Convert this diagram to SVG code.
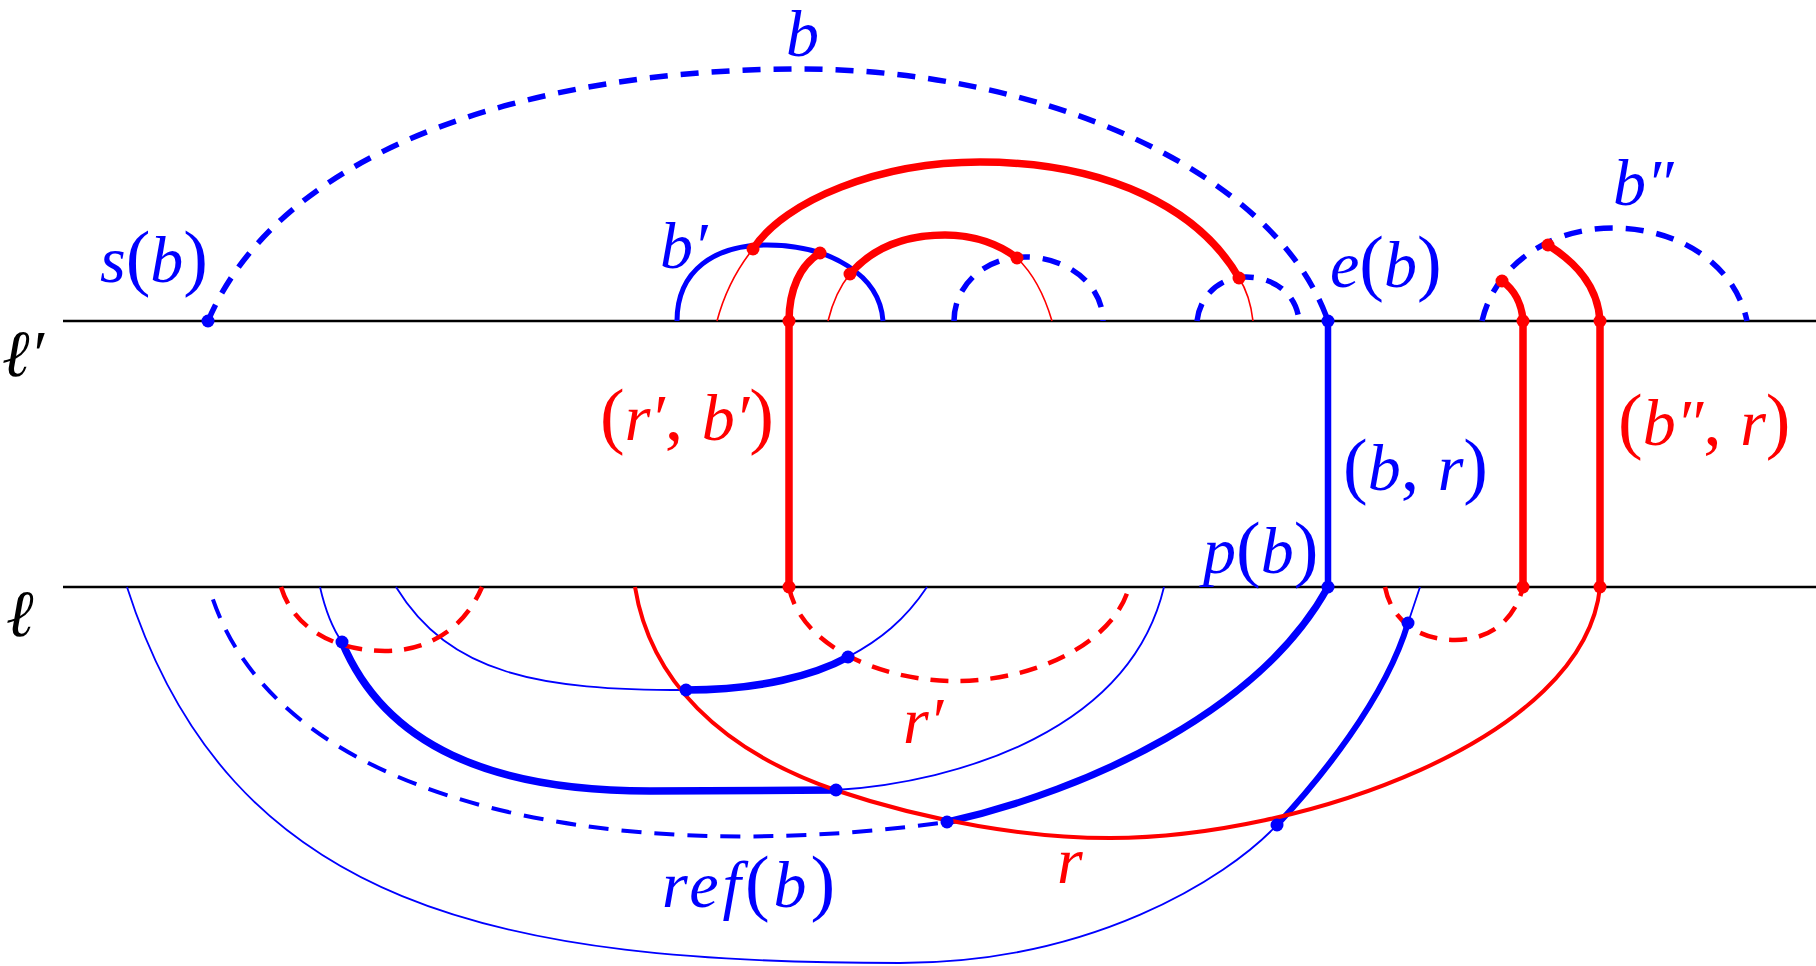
<svg xmlns="http://www.w3.org/2000/svg" width="1816" height="966" viewBox="0 0 1816 966">
<style>
.ax{stroke:#000;stroke-width:2.7;fill:none}
.bt{stroke:#00f;stroke-width:1.8;fill:none}
.bm{stroke:#00f;stroke-width:5;fill:none}
.bk{stroke:#00f;stroke-width:7.5;fill:none;stroke-linecap:round}
.bv{stroke:#00f;stroke-width:6.5;fill:none}
.bd{stroke:#00f;stroke-width:5.5;fill:none;stroke-dasharray:18 13}
.bd2{stroke:#00f;stroke-width:4;fill:none;stroke-dasharray:20 13;stroke-dashoffset:20}
.rt{stroke:#f00;stroke-width:1.6;fill:none}
.rm{stroke:#f00;stroke-width:4;fill:none}
.rk{stroke:#f00;stroke-width:7.5;fill:none;stroke-linecap:round}
.rd{stroke:#f00;stroke-width:4.5;fill:none;stroke-dasharray:18 12}
.db{fill:#00f}
.dr{fill:#f00}
.lb{font-family:'Liberation Serif','Times New Roman','DejaVu Serif',serif;font-style:italic;font-size:66px}
.bl{fill:#00f}
.rl{fill:#f00}
.kl{fill:#000}
.p{font-style:normal;font-size:74px}
</style>
<rect width="1816" height="966" fill="#fff"/>
<g id="lines">
<line class="ax" x1="63" y1="321" x2="1816" y2="321"/>
<line class="ax" x1="63" y1="587" x2="1816" y2="587"/>
</g>
<g id="connectors">
<path class="bd" d="M208,321 C285,140 550,69 800,69 C1040,69 1275,170 1328,321"/>
<path class="bm" d="M677,321 C677,270 715,245 767,245 C830,245 880,275 883,321"/>
<path class="bd" d="M954,321 C954,285 985,257 1025,257 C1068,257 1103,285 1103,321"/>
<path class="bd" d="M1197,321 C1200,295 1220,277 1246,277 C1275,277 1297,295 1299,321"/>
<path class="bd" d="M1482,321 C1495,265 1550,228 1613,228 C1680,228 1735,265 1747,321"/>
<path class="rt" d="M717,321 Q728,280 753,249"/>
<path class="rk" d="M753,249 C785,200 880,162 980,162 C1110,162 1200,210 1239,278"/>
<path class="rt" d="M1239,278 Q1250,295 1253,321"/>
<path class="rt" d="M828,321 Q835,292 850,274"/>
<path class="rk" d="M850,274 C875,245 910,235 945,235 C975,235 1000,245 1017,258"/>
<path class="rt" d="M1017,258 Q1040,280 1052,321"/>
<path class="rk" d="M789,587 L789,321 C789,290 800,265 820,253"/>
<path class="rk" d="M1502,281 C1515,290 1522,305 1523,321 L1523,587"/>
<path class="rk" d="M1548,245 C1575,262 1598,285 1600,321 L1600,587"/>
<path class="bv" d="M1328,321 L1328,587"/>
<path class="bt" d="M127,587 C230,910 500,963 900,963 C1090,963 1225,880 1277,825"/>
<path class="bk" style="stroke-width:6" d="M1277,825 C1318,781 1385,700 1408,623"/>
<path class="bt" d="M1408,623 L1420,587"/>
<path class="bd2" d="M209,587 C270,800 600,870 947,822"/>
<path class="bk" style="stroke-width:7" d="M947,822 C1090,790 1260,710 1328,587"/>
<path class="bt" d="M320,587 Q328,622 342,642"/>
<path class="bk" d="M342,642 C385,745 490,791 650,791 C740,791 800,790 836,790"/>
<path class="bt" d="M836,790 C960,782 1130,730 1164,587"/>
<path class="bt" d="M396,587 C450,675 540,690 686,690"/>
<path class="bk" d="M686,690 C760,690 815,675 848,657"/>
<path class="bt" d="M848,657 C880,640 905,620 927,587"/>
<path class="rd" d="M281,587 C295,632 340,651 385,651 C430,651 465,627 482,587"/>
<path class="rd" d="M789,587 C800,645 880,681 955,681 C1040,681 1115,640 1129,587"/>
<path class="rm" d="M635,587 C650,680 720,750 835,790 C930,822 1030,838 1110,838 C1300,838 1585,740 1600,587"/>
<path class="rd" d="M1385,587 C1392,622 1420,640 1455,640 C1490,640 1515,620 1523,587"/>
</g>
<g id="dots">
<circle class="db" cx="208" cy="321" r="6.5"/>
<circle class="db" cx="1328" cy="321" r="6.5"/>
<circle class="db" cx="1328" cy="587" r="6.5"/>
<circle class="db" cx="342" cy="642" r="6.5"/>
<circle class="db" cx="836" cy="790" r="6.5"/>
<circle class="db" cx="686" cy="690" r="6.5"/>
<circle class="db" cx="848" cy="657" r="6.5"/>
<circle class="db" cx="947" cy="822" r="6.5"/>
<circle class="db" cx="1277" cy="825" r="6.5"/>
<circle class="db" cx="1408" cy="623" r="6.5"/>
<circle class="dr" cx="753" cy="249" r="6.5"/>
<circle class="dr" cx="820" cy="253" r="6.5"/>
<circle class="dr" cx="850" cy="274" r="6.5"/>
<circle class="dr" cx="789" cy="321" r="6.5"/>
<circle class="dr" cx="1017" cy="258" r="6.5"/>
<circle class="dr" cx="1239" cy="278" r="6.5"/>
<circle class="dr" cx="1502" cy="281" r="6.5"/>
<circle class="dr" cx="1548" cy="245" r="6.5"/>
<circle class="dr" cx="1523" cy="321" r="6.5"/>
<circle class="dr" cx="1600" cy="321" r="6.5"/>
<circle class="dr" cx="789" cy="587" r="6.5"/>
<circle class="dr" cx="1523" cy="587" r="6.5"/>
<circle class="dr" cx="1600" cy="587" r="6.5"/>
</g>
<g id="labels">
<g id="lbl-b"><text class="lb bl" x="786" y="56">b</text></g>
<g id="lbl-sb"><text class="lb bl" x="100" y="282">s<tspan class="p">(</tspan>b<tspan class="p">)</tspan></text></g>
<g id="lbl-b1"><text class="lb bl" x="660" y="268">b′</text></g>
<g id="lbl-eb"><text class="lb bl" x="1330" y="287">e<tspan class="p">(</tspan>b<tspan class="p">)</tspan></text></g>
<g id="lbl-b2"><text class="lb bl" x="1613" y="205">b″</text></g>
<g id="lbl-r1b1"><text class="lb rl" x="600" y="440"><tspan class="p">(</tspan>r′<tspan class="p">, </tspan>b′<tspan class="p">)</tspan></text></g>
<g id="lbl-br"><text class="lb bl" x="1343" y="490"><tspan class="p">(</tspan>b<tspan class="p">, </tspan>r<tspan class="p">)</tspan></text></g>
<g id="lbl-pb"><text class="lb bl" x="1203" y="573">p<tspan class="p">(</tspan>b<tspan class="p">)</tspan></text></g>
<g id="lbl-b2r"><text class="lb rl" x="1618" y="445"><tspan class="p">(</tspan>b″<tspan class="p">, </tspan>r<tspan class="p">)</tspan></text></g>
<g id="lbl-r1"><text class="lb rl" x="903" y="743">r′</text></g>
<g id="lbl-r"><text class="lb rl" x="1057" y="883">r</text></g>
<g id="lbl-refb"><text class="lb bl" x="662" y="907" letter-spacing="4">ref<tspan class="p">(</tspan>b<tspan class="p">)</tspan></text></g>
<g id="lbl-l1"><text class="lb kl" x="2" y="376">ℓ′</text></g>
<g id="lbl-l"><text class="lb kl" x="6" y="636">ℓ</text></g>
</g>
</svg>
